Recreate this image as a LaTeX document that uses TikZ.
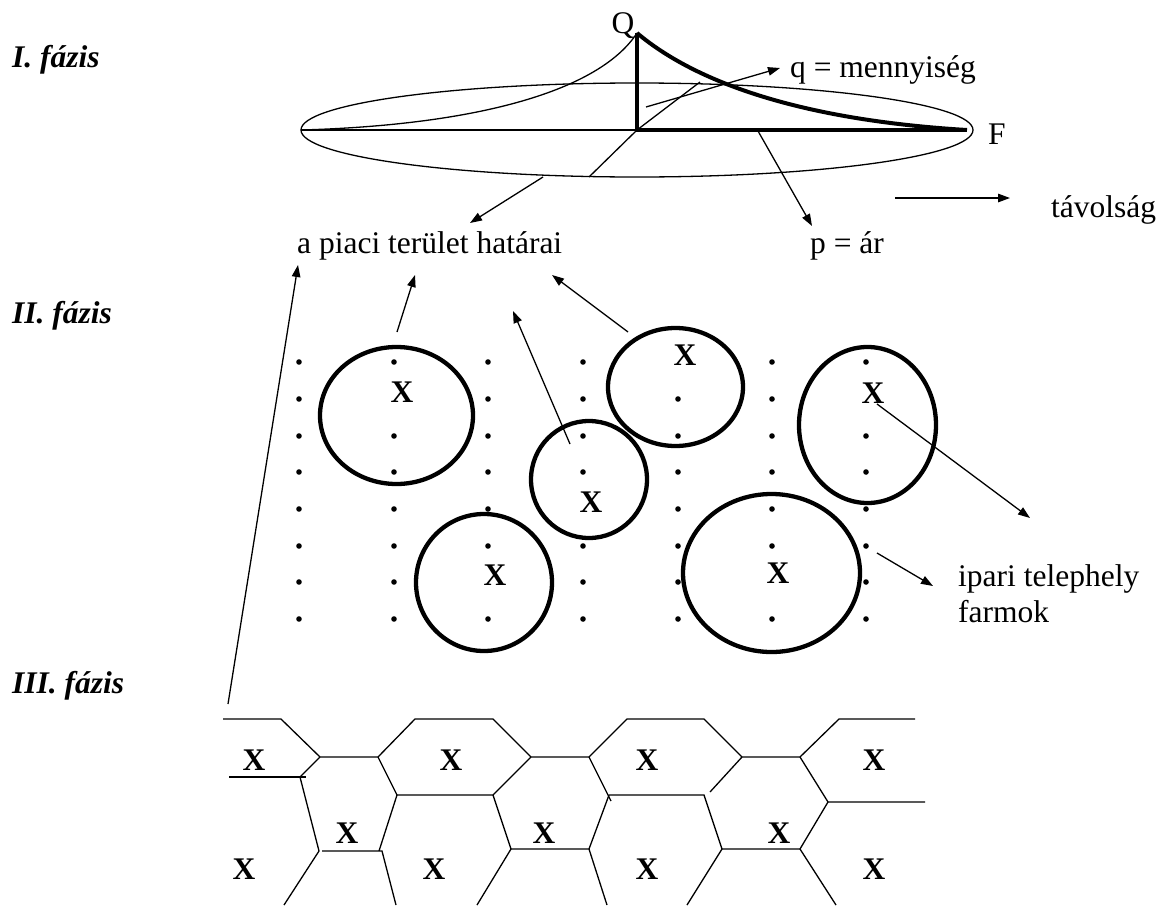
\documentclass[tikz,border=0pt]{standalone}
\usepackage{fontspec}
\setmainfont{Liberation Serif}
\usetikzlibrary{arrows.meta}
\begin{document}
\begin{tikzpicture}[x=1pt,y=-1pt,
  thinln/.style={line width=1.3pt},
  thickln/.style={line width=4pt,line join=miter},
  ring/.style={line width=4.3pt},
  arr/.style={line width=1.3pt,-{Triangle[length=12pt,width=8.5pt]}},
  lbl/.style={inner sep=0pt,anchor=base west,font=\fontsize{31.5}{36}\selectfont},
  phase/.style={inner sep=0pt,anchor=base west,font=\fontsize{31.5}{36}\selectfont\bfseries\itshape},
  xmark/.style={inner sep=0pt,font=\fontsize{31.5}{36}\selectfont\bfseries},
  fdot/.style={fill=black}]
\useasboundingbox (0,0) rectangle (1162,905);

% phase labels
\node[phase] (ph1) at (12,67) {I. fázis};
\node[phase] (ph2) at (12,323) {II. fázis};
\node[phase] (ph3) at (12,693) {III. fázis};

% ---------------- Phase I ----------------
\coordinate (O) at (637,130);
\coordinate (P) at (637,33);
\coordinate (Fend) at (967,130);
\coordinate (L) at (301,130);
\coordinate (dlow) at (589,177);
\coordinate (dup) at (700,82);
\draw[thinln] (O) ellipse [x radius=336, y radius=47];
\draw[thinln] (L) -- (O);
\draw[thinln] (L) .. controls (480,125) and (600,90) .. (P);
\draw[thinln] (dlow) -- (O) -- (dup);
\draw[thickln] (P) -- (O) -- (Fend);
\draw[thickln] (P) .. controls (695,82) and (800,120) .. (Fend);

\node[lbl,anchor=base] (Q) at (623,33) {Q};
\node[lbl] (F) at (988,144) {F};
\node[lbl] (q) at (790,77) {q = mennyiség};
\node[lbl] (tav) at (1051,217) {távolság};
\node[lbl] (hat) at (297,253) {a piaci terület határai};
\node[lbl] (p) at (810,253) {p = ár};

\coordinate (qs) at (646,107);  \coordinate (qe) at (780,68);
\coordinate (ts) at (895,198);  \coordinate (te) at (1010,198);
\coordinate (hs) at (543,177);  \coordinate (he) at (470,223);
\coordinate (ps) at (758,131);  \coordinate (pe) at (812,226);
\draw[arr] (qs) -- (qe);
\draw[arr] (ts) -- (te);
\draw[arr] (hs) -- (he);
\draw[arr] (ps) -- (pe);

% ---------------- Phase II ----------------
\foreach \x/\ys in {299/{362,399,436,472,509,546,582,619},
                    394/{362,436,472,509,546,582,619},
                    488/{362,399,436,472,509,546,619},
                    583/{362,399,436,472,546,582,619},
                    678/{399,436,472,509,546,582,619},
                    772/{362,399,436,472,509,546,619},
                    866/{362,436,472,509,546,582,619}}
  {\foreach \y in \ys {\fill[fdot] (\x,\y) circle [radius=2.8];}}

\draw[ring] (396.5,415.5) ellipse [x radius=76.5, y radius=68.5];
\draw[ring] (484,582.5) ellipse [x radius=68, y radius=68.5];
\draw[ring] (589,479.5) ellipse [x radius=58, y radius=58.5];
\draw[ring] (675.5,387) ellipse [x radius=67.5, y radius=59];
\draw[ring] (867.5,425) ellipse [x radius=68.5, y radius=78];
\draw[ring] (771.5,573) ellipse [x radius=88.5, y radius=79];

\node[xmark] (x1) at (402,392) {X};
\node[xmark] (x2) at (495,575) {X};
\node[xmark] (x3) at (591,502) {X};
\node[xmark] (x4) at (685,355) {X};
\node[xmark] (x5) at (873,393) {X};
\node[xmark] (x6) at (778,573) {X};

\node[lbl] (ipari) at (958,586) {ipari telephely};
\node[lbl] (farm) at (958,622) {farmok};

\coordinate (a1s) at (397,332); \coordinate (a1e) at (415,275);
\coordinate (a2s) at (570,444); \coordinate (a2e) at (513,311);
\coordinate (a3s) at (628,332); \coordinate (a3e) at (552,275);
\coordinate (a4s) at (228,704); \coordinate (a4e) at (298,265);
\coordinate (a5s) at (877,404); \coordinate (a5e) at (1030,518);
\coordinate (a6s) at (877,553); \coordinate (a6e) at (933,586);
\draw[arr] (a1s) -- (a1e);
\draw[arr] (a2s) -- (a2e);
\draw[arr] (a3s) -- (a3e);
\draw[arr] (a4s) -- (a4e);
\draw[arr] (a5s) -- (a5e);
\draw[arr] (a6s) -- (a6e);

% ---------------- Phase III ----------------
\draw[thinln] (223,719) -- (281,719) -- (320,757) -- (378,757) -- (415,719) -- (493,719)
  -- (531,757) -- (589,757) -- (627,719) -- (704,719) -- (742,757) -- (800,757)
  -- (839,719) -- (915,719);
\draw[thinln] (229,777) -- (306,777);
\draw[thinln] (320,757) -- (300,777) -- (319,851) -- (284,905);
\draw[thinln] (322,851) -- (382,851) -- (396,905);
\draw[thinln] (378,757) -- (397,795) -- (493,795) -- (531,757);
\draw[thinln] (397,795) -- (379,851);
\draw[thinln] (477,905) -- (511,849) -- (493,795);
\draw[thinln] (511,849) -- (589,849) -- (607,905);
\draw[thinln] (589,849) -- (609,795) -- (704,795) -- (722,849) -- (687,905);
\draw[thinln] (589,757) -- (611,801);
\draw[thinln] (722,849) -- (800,849) -- (836,905);
\draw[thinln] (800,849) -- (828,802) -- (925,802);
\draw[thinln] (800,757) -- (828,802);
\draw[thinln] (742,757) -- (710,792);

\node[xmark] (h1) at (254,760) {X};
\node[xmark] (h2) at (451,760) {X};
\node[xmark] (h3) at (647,760) {X};
\node[xmark] (h4) at (874,760) {X};
\node[xmark] (h5) at (347,833) {X};
\node[xmark] (h6) at (544,833) {X};
\node[xmark] (h7) at (779,833) {X};
\node[xmark] (h8) at (244,869) {X};
\node[xmark] (h9) at (434,869) {X};
\node[xmark] (h10) at (647,869) {X};
\node[xmark] (h11) at (874,869) {X};
\end{tikzpicture}
\end{document}
